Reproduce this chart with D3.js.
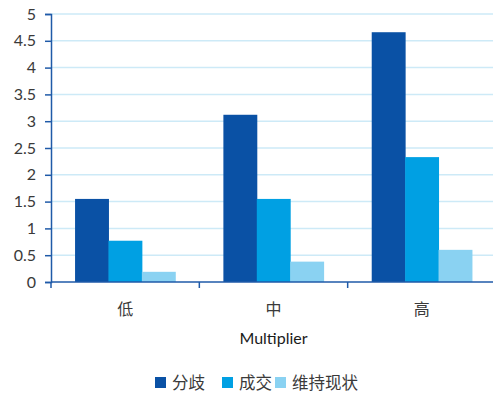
<!DOCTYPE html>
<html>
  <head>
    <meta charset="UTF-8" />
    <script src="https://d3js.org/d3.v7.min.js"></script>
    <style>
      body { margin: 0; background: #fff; }
      text { font-family: "Noto Sans CJK SC", "Noto Sans", sans-serif; }
    </style>
  </head>
  <body>
    <div id="chart"></div>
    <script>
      // Dados do gráfico
      var categories = ["低", "中", "高"];
      var seriesNames = ["分歧", "成交", "维持现状"];
      var seriesColors = ["#0a51a5", "#00a0e3", "#8ad2f2"];
      var divergeValues = [1.55, 3.12, 4.66];
      var dealValues = [0.77, 1.55, 2.33];
      var statusQuoValues = [0.19, 0.38, 0.6];
      var yTicks = [0, 0.5, 1, 1.5, 2, 2.5, 3, 3.5, 4, 4.5, 5];
      var xTitle = "Multiplier";

      var seriesValues = [divergeValues, dealValues, statusQuoValues];

      var W = 493, H = 394;
      var margin = { top: 14, right: -3, bottom: 112, left: 51 },
        width = W - margin.left - margin.right,
        height = H - margin.top - margin.bottom;

      var svg = d3
        .select("#chart")
        .append("svg")
        .attr("width", W)
        .attr("height", H);

      var g = svg
        .append("g")
        .attr("transform", "translate(" + margin.left + "," + margin.top + ")");

      var x = d3.scaleBand().domain(categories).range([0, width]).paddingInner(0).paddingOuter(0);
      var xs = d3.scaleBand().domain(seriesNames).range([0, x.bandwidth()]).paddingOuter(0.72).paddingInner(0);
      var y = d3.scaleLinear().domain([0, 5]).range([height, 0]);

      // Linhas de grade
      g.selectAll(".grid")
        .data(yTicks.filter((d) => d > 0))
        .enter()
        .append("line")
        .attr("x1", 0)
        .attr("x2", width)
        .attr("y1", (d) => y(d))
        .attr("y2", (d) => y(d))
        .attr("stroke", "#cdeaf7")
        .attr("stroke-width", 1.5);

      // Barras
      var rows = [];
      categories.forEach((c, i) => {
        seriesNames.forEach((s, j) => {
          rows.push({ cat: c, serie: s, value: seriesValues[j][i], color: seriesColors[j] });
        });
      });

      g.selectAll(".bar")
        .data(rows)
        .enter()
        .append("rect")
        .attr("class", "bar")
        .attr("x", (d) => x(d.cat) + xs(d.serie))
        .attr("width", xs.bandwidth() + 0.5)
        .attr("y", (d) => y(d.value))
        .attr("height", (d) => height - y(d.value))
        .attr("fill", (d) => d.color);

      // Eixo Y
      var yAxis = g.append("g").call(
        d3.axisLeft(y).tickValues(yTicks).tickSize(6).tickPadding(9).tickFormat((d) => String(d))
      );
      yAxis.select(".domain").attr("stroke", "#1f5aa8").attr("stroke-width", 1.5);
      yAxis.selectAll(".tick line").attr("stroke", "#1f5aa8").attr("stroke-width", 1.5);
      yAxis.selectAll("text")
        .attr("fill", "#3a3a3a")
        .style("font-size", "16px")
        .style("font-family", "Lato, sans-serif");

      // Eixo X
      var xAxis = g.append("g").attr("transform", "translate(0," + height + ")");
      xAxis.append("line")
        .attr("x1", 0).attr("x2", width)
        .attr("stroke", "#1f5aa8").attr("stroke-width", 1.5);
      xAxis.selectAll(".xtick")
        .data(categories)
        .enter()
        .append("line")
        .attr("x1", (d) => x(d))
        .attr("x2", (d) => x(d))
        .attr("y1", 0)
        .attr("y2", 6)
        .attr("stroke", "#1f5aa8")
        .attr("stroke-width", 1.5);
      xAxis.selectAll(".xlabel")
        .data(categories)
        .enter()
        .append("text")
        .attr("x", (d) => x(d) + x.bandwidth() / 2)
        .attr("y", 33)
        .attr("text-anchor", "middle")
        .attr("fill", "#3a3a3a")
        .style("font-size", "16px")
        .text((d) => d);

      // Título do eixo X
      svg.append("text")
        .attr("x", margin.left + x("中") + x.bandwidth() / 2)
        .attr("y", 344)
        .attr("text-anchor", "middle")
        .attr("fill", "#1a1a1a")
        .style("font-size", "16px")
        .style("font-family", "Lato, sans-serif")
        .text(xTitle);

      // Legenda
      var legendX = [155, 222, 275];
      var legend = svg.selectAll(".legend")
        .data(seriesNames)
        .enter()
        .append("g")
        .attr("transform", (d, i) => "translate(" + legendX[i] + ",377)");
      legend.append("rect")
        .attr("width", 11)
        .attr("height", 11)
        .attr("fill", (d, i) => seriesColors[i]);
      legend.append("text")
        .attr("x", 17)
        .attr("y", 11.5)
        .attr("fill", "#3a3a3a")
        .style("font-size", "16.5px")
        .text((d) => d);
    </script>
  </body>
</html>
